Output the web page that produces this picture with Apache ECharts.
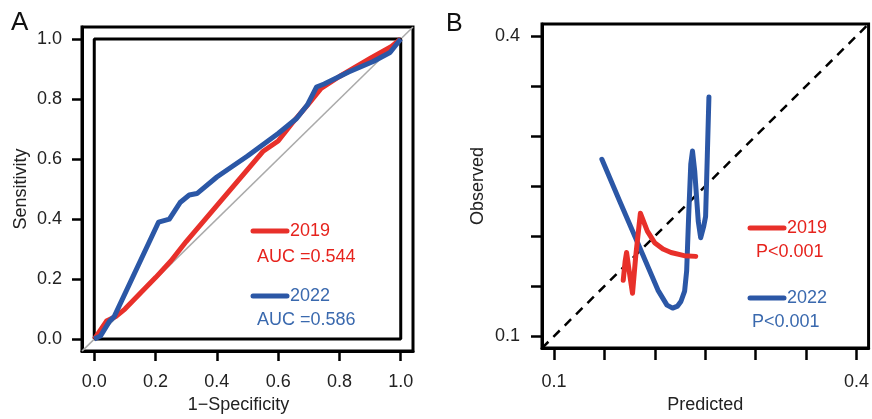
<!DOCTYPE html>
<html>
<head>
<meta charset="utf-8">
<script src="https://cdn.jsdelivr.net/npm/echarts@6/dist/echarts.min.js"></script>
<style>
  html, body { margin: 0; padding: 0; background: #fff; }
  #chart { width: 872px; height: 419px; }
</style>
</head>
<body>
<div id="chart"></div>
<script>
// panel A: ROC curves [1-specificity, sensitivity]
const roc2019 = [[0,0],[0.02,0.03],[0.04,0.06],[0.07,0.075],[0.1,0.1],[0.2,0.205],[0.25,0.26],[0.3,0.325],
  [0.4,0.445],[0.5,0.565],[0.55,0.625],[0.6,0.66],[0.65,0.725],[0.7,0.785],[0.74,0.835],[0.8,0.875],
  [0.9,0.935],[0.97,0.975],[1,1]];
const roc2022 = [[0,0],[0.02,0.01],[0.05,0.06],[0.065,0.075],[0.21,0.39],[0.245,0.4],[0.28,0.455],
  [0.31,0.48],[0.335,0.485],[0.4,0.54],[0.5,0.61],[0.6,0.685],[0.66,0.735],[0.695,0.78],[0.725,0.84],
  [0.75,0.85],[0.83,0.89],[0.91,0.925],[0.965,0.955],[1,1]];
const refLineA = [[-0.04,-0.04],[1.04,1.04]];
const unitBox = [[0,0],[1,0],[1,1],[0,1],[0,0]];
const ticksA = [0, 0.2, 0.4, 0.6, 0.8, 1.0];

// panel B: calibration [predicted, observed]
const cal2019 = [[0.1686,0.1559],[0.1705,0.175],[0.1719,0.1836],[0.1745,0.165],[0.1778,0.1428],
  [0.181,0.18],[0.1856,0.2228],[0.1925,0.205],[0.1997,0.1934],[0.208,0.187],[0.216,0.1836],
  [0.2291,0.1804],[0.2405,0.1797]];
const cal2022 = [[0.1474,0.2768],[0.165,0.235],[0.183,0.193],[0.203,0.146],[0.212,0.131],[0.2176,0.128],
  [0.2225,0.13],[0.2258,0.1346],[0.2295,0.145],[0.2315,0.165],[0.2335,0.22],[0.2356,0.272],
  [0.2373,0.285],[0.2395,0.265],[0.243,0.215],[0.2454,0.1983],[0.2485,0.21],[0.2503,0.2196],
  [0.252,0.28],[0.2536,0.339]];
const refLineB = [[0.088,0.088],[0.412,0.412]];
const ticksB = [0.1, 0.15, 0.2, 0.25, 0.3, 0.35, 0.4];
const labelsB = [0.1, 0.4];

const RED = '#e8302a';
const BLUE = '#2b57a6';
const RED_TXT = '#e6231d';
const BLUE_TXT = '#3a69ae';
const FONT = "'Liberation Sans', Arial, sans-serif";

function axis(idx, min, max, ticks, labels, tickLen, margin, name, nameGap, namePad, fmt) {
  return {
    type: 'value', gridIndex: idx, min: min, max: max,
    name: name, nameLocation: 'middle', nameGap: nameGap,
    nameTextStyle: { fontSize: 18, color: '#222', fontFamily: FONT, padding: namePad },
    axisLine: { show: true, onZero: false, lineStyle: { color: '#000', width: 3 } },
    axisTick: { show: true, length: tickLen, customValues: ticks, lineStyle: { color: '#000', width: 2.5 } },
    axisLabel: { customValues: labels, margin: margin, fontSize: 18, color: '#222', fontFamily: FONT, formatter: fmt },
    splitLine: { show: false }
  };
}

function legendItem(x, y, color, label, sub, subX, subY, txtColor) {
  return [
    { type: 'line', shape: { x1: x, y1: y, x2: x + 34, y2: y },
      style: { stroke: color, lineWidth: 5, lineCap: 'round' } },
    { type: 'text', x: x + 37, y: y, style: { text: label, fill: txtColor, fontSize: 18, fontFamily: FONT, verticalAlign: 'middle' } },
    { type: 'text', x: subX, y: subY, style: { text: sub, fill: txtColor, fontSize: 18, fontFamily: FONT, verticalAlign: 'middle' } }
  ];
}

const f1 = v => v.toFixed(1);

const chart = echarts.init(document.getElementById('chart'));
chart.setOption({
  backgroundColor: '#fff',
  animation: false,
  grid: [
    { left: 82, top: 27, width: 331, height: 331, show: true, borderColor: '#000', borderWidth: 3 },
    { left: 542, top: 24, width: 331, height: 331, show: true, borderColor: '#000', borderWidth: 3 }
  ],
  xAxis: [
    axis(0, -0.04, 1.04, ticksA, ticksA, 10, 22, '1\u2212Specificity', 43, [0, 18, 0, 0], f1),
    axis(1, 0.088, 0.412, ticksB, labelsB, 12, 25, 'Predicted', 45, [0, 0, 0, 0], f1)
  ],
  yAxis: [
    axis(0, -0.04, 1.04, ticksA, ticksA, 10, 20, 'Sensitivity', 52, [0, 0, 0, 0], f1),
    axis(1, 0.088, 0.412, ticksB, labelsB, 11, 22, 'Observed', 55, [14, 0, 0, 0], f1)
  ],
  series: [
    { type: 'line', xAxisIndex: 0, yAxisIndex: 0, data: refLineA, symbol: 'none', silent: true,
      lineStyle: { color: '#aaa', width: 1.5 } },
    { type: 'line', xAxisIndex: 0, yAxisIndex: 0, data: unitBox, symbol: 'none', silent: true,
      lineStyle: { color: '#000', width: 3 } },
    { type: 'line', xAxisIndex: 0, yAxisIndex: 0, data: roc2019, symbol: 'none',
      lineStyle: { color: RED, width: 5, join: 'round' } },
    { type: 'line', xAxisIndex: 0, yAxisIndex: 0, data: roc2022, symbol: 'none',
      lineStyle: { color: BLUE, width: 5, join: 'round' } },
    { type: 'line', xAxisIndex: 1, yAxisIndex: 1, data: refLineB, symbol: 'none', silent: true,
      lineStyle: { color: '#000', width: 2.5, type: [9, 7] } },
    { type: 'line', xAxisIndex: 1, yAxisIndex: 1, data: cal2022, symbol: 'none',
      lineStyle: { color: BLUE, width: 5, cap: 'round', join: 'round' } },
    { type: 'line', xAxisIndex: 1, yAxisIndex: 1, data: cal2019, symbol: 'none',
      lineStyle: { color: RED, width: 5, cap: 'round', join: 'round' } }
  ],
  graphic: [
    { type: 'text', x: 11, y: 23, style: { text: 'A', fontSize: 26, fill: '#111', fontFamily: FONT, verticalAlign: 'middle' } },
    { type: 'text', x: 446, y: 24, style: { text: 'B', fontSize: 25, fill: '#111', fontFamily: FONT, verticalAlign: 'middle' } }
  ].concat(
    legendItem(253, 231, RED, '2019', 'AUC =0.544', 257, 257, RED_TXT),
    legendItem(253, 296, BLUE, '2022', 'AUC =0.586', 257, 320, BLUE_TXT),
    legendItem(750, 228, RED, '2019', 'P<0.001', 756, 252, RED_TXT),
    legendItem(750, 298, BLUE, '2022', 'P<0.001', 752, 322, BLUE_TXT)
  )
});
</script>
</body>
</html>
